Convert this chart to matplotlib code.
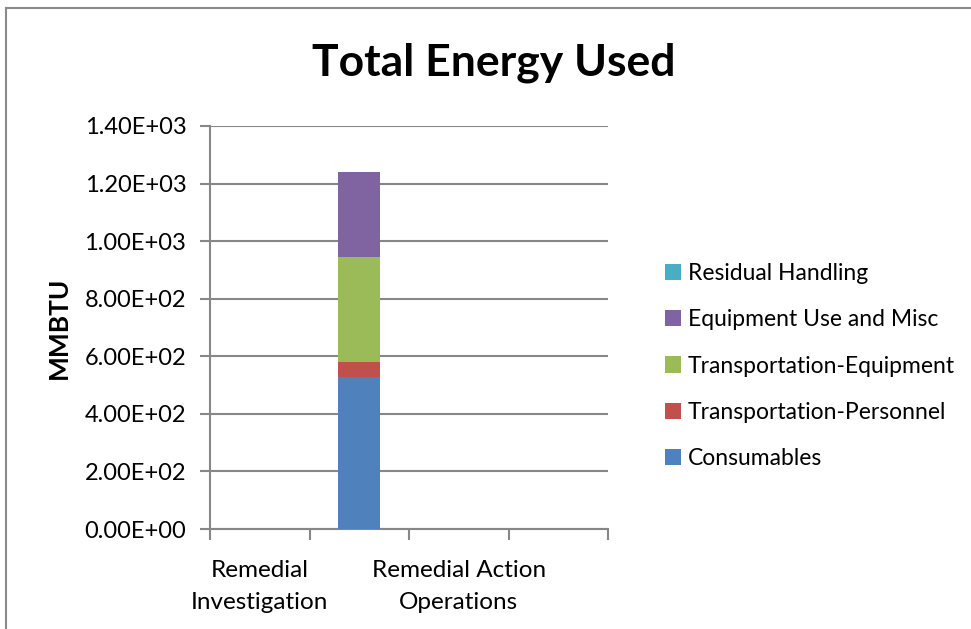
import matplotlib.pyplot as plt
from matplotlib.lines import Line2D
from matplotlib.patches import Patch
from matplotlib.ticker import FixedLocator, FuncFormatter

plt.rcParams["font.family"] = ["Lato", "DejaVu Sans"]

# category slots on the x axis (Excel only printed every other label)
phase_labels = ["Remedial\nInvestigation", "", "Remedial Action\nOperations", ""]

# MMBTU per phase, one list per stacked series
consumables = [0, 528, 0, 0]
transport_personnel = [0, 52, 0, 0]
transport_equipment = [0, 365, 0, 0]
equipment_use = [0, 295, 0, 0]
residual_handling = [0, 0, 0, 0]

series_names = [
    "Consumables",
    "Transportation-Personnel",
    "Transportation-Equipment",
    "Equipment Use and Misc",
    "Residual Handling",
]
series_values = [consumables, transport_personnel, transport_equipment, equipment_use, residual_handling]
series_colors = ["#4F81BD", "#C0504D", "#9BBB59", "#8064A2", "#4BACC6"]

y_ticks = [0, 200, 400, 600, 800, 1000, 1200, 1400]

W, H = 971, 629
fig = plt.figure(figsize=(W / 100, H / 100), dpi=100)
ax = fig.add_axes([210 / W, 1 - 529 / H, 398 / W, 403 / H])

grey = "#878787"
xs = list(range(len(phase_labels)))
bottom = [0] * len(xs)
for name, vals, col in zip(series_names, series_values, series_colors):
    ax.bar(xs, vals, width=0.42, bottom=bottom, color=col, label=name, zorder=3)
    bottom = [b + v for b, v in zip(bottom, vals)]

ax.set_xlim(-0.5, len(xs) - 0.5)
ax.set_ylim(0, 1400)
ax.yaxis.set_major_locator(FixedLocator(y_ticks))
ax.yaxis.set_major_formatter(FuncFormatter(lambda v, p: f"{v:.2E}"))
ax.grid(axis="y", color=grey, linewidth=1.5, zorder=0)

ax.set_xticks([x - 0.5 for x in xs] + [len(xs) - 0.5])
ax.set_xticklabels([])
ax.set_xticks(xs, minor=True)
ax.set_xticklabels(phase_labels, minor=True, fontsize=17.5, linespacing=1.7)
ax.tick_params(axis="x", which="minor", length=0, pad=22)
ax.tick_params(axis="x", which="major", length=8, width=1.5, color=grey, direction="out")
ax.tick_params(axis="y", length=7, width=1.5, color=grey, labelsize=17, pad=10)

for side in ["top", "right"]:
    ax.spines[side].set_visible(False)
for side in ["left", "bottom"]:
    ax.spines[side].set_color(grey)
    ax.spines[side].set_linewidth(1.5)

ax.set_ylabel("MMBTU", fontsize=19, fontweight="bold")
ax.yaxis.set_label_coords(-0.35, 0.5)
fig.text(494 / W, 1 - 63 / H, "Total Energy Used", ha="center", va="center",
         fontsize=32, fontweight="bold")

handles = [Patch(facecolor=c, edgecolor="none") for c in series_colors]
fig.legend(handles[::-1], series_names[::-1], loc="center left",
           bbox_to_anchor=(644 / W, 1 - 366 / H), frameon=False, fontsize=16.5,
           handlelength=0.72, handleheight=0.72, handletextpad=0.3, labelspacing=1.1)

# outer chart border (only top and left edges fall inside the crop)
fig.add_artist(Line2D([6 / W, 1], [1 - 8 / H, 1 - 8 / H], color="#8a8a8a", linewidth=1.5))
fig.add_artist(Line2D([6 / W, 6 / W], [0, 1 - 8 / H], color="#8a8a8a", linewidth=1.5))

fig.savefig("out.png", dpi=100)
